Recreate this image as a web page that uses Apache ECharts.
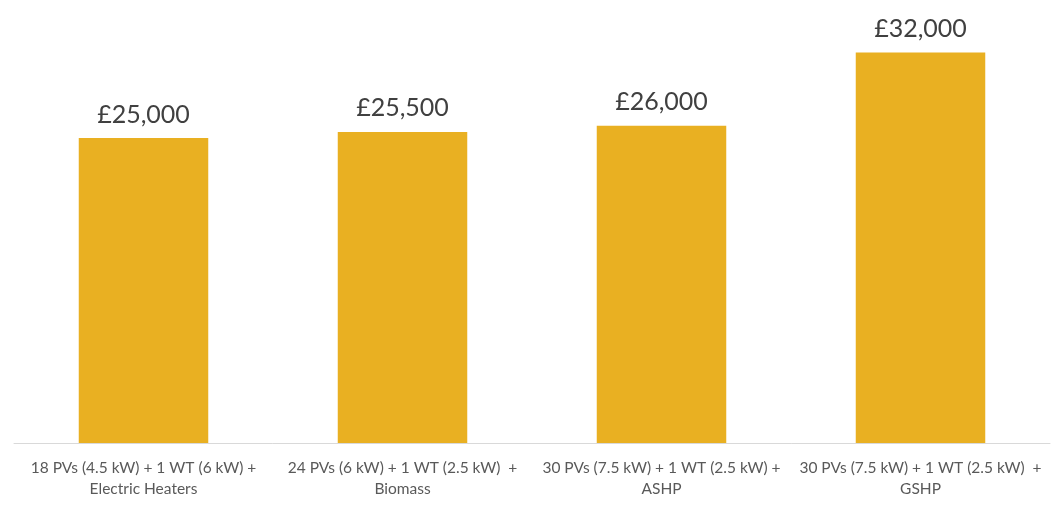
<!DOCTYPE html>
<html><head><meta charset="utf-8">
<script src="https://cdn.jsdelivr.net/npm/echarts@6/dist/echarts.min.js"></script>
<style>html,body{margin:0;padding:0;background:#fff}#c{width:1061px;height:509px}</style>
</head><body><div id="c"></div>
<script>
const categories = [
  "18 PVs (4.5 kW) + 1 WT (6 kW) +\nElectric Heaters",
  "24 PVs (6 kW) + 1 WT (2.5 kW)  +\nBiomass",
  "30 PVs (7.5 kW) + 1 WT (2.5 kW) +\nASHP",
  "30 PVs (7.5 kW) + 1 WT (2.5 kW)  +\nGSHP"
];
const costs = [25000, 25500, 26000, 32000];

const chart = echarts.init(document.getElementById('c'));
chart.setOption({
  animation: false,
  grid: {left: 14, right: 11, top: 16, bottom: 66, containLabel: false},
  xAxis: {
    type: 'category', data: categories,
    axisLine: {lineStyle: {color: '#d9d9d9', width: 1}},
    axisTick: {show: false},
    axisLabel: {color: '#595959', fontFamily: 'Lato', fontSize: 15.5, lineHeight: 21, margin: 14, interval: 0}
  },
  yAxis: {type: 'value', min: 0, max: 35000, show: false, splitLine: {show: false}},
  series: [{
    type: 'bar', data: costs, barWidth: '50%',
    itemStyle: {color: '#e9b022'},
    label: {show: true, position: 'top', distance: 11, color: '#404040', fontFamily: 'Lato', fontSize: 25,
      formatter: p => '£' + p.value.toLocaleString('en-GB')}
  }]
});
</script></body></html>
